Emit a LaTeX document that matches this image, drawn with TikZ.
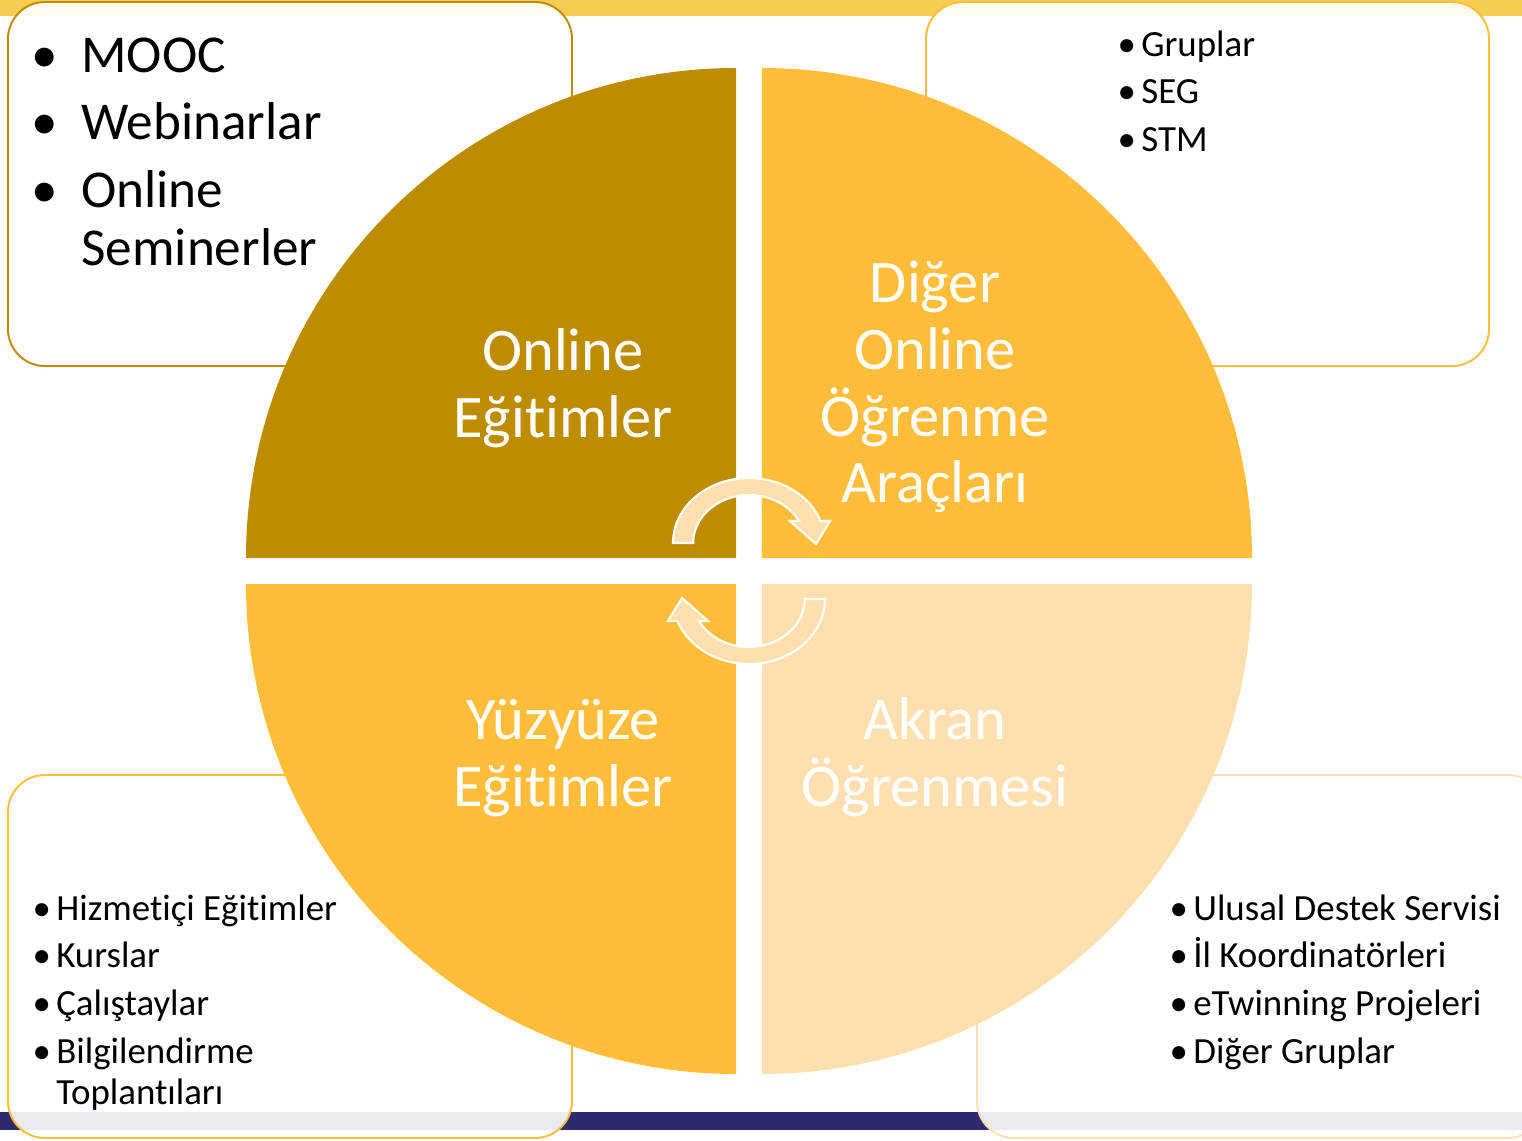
\documentclass[tikz,border=0pt]{standalone}
\usepackage{fontspec}
\setmainfont{Carlito}[Ligatures=NoCommon]
\definecolor{gold}{RGB}{189,140,0}
\definecolor{amber}{RGB}{255,189,58}
\definecolor{peach}{RGB}{255,223,176}
\definecolor{topbar}{RGB}{245,205,80}
\definecolor{navy}{RGB}{44,42,108}
\newcommand{\bitem}[2]{\llap{\textbullet\hspace{#1}}#2}
% one curved arrow, the other one is the same turned round
\def\turnpath{(673,543) arc[start angle=180, end angle=340.2, x radius=76, y radius=65]
  -- (830,521) -- (816,544) -- (790,521) -- (799,521)
  arc[start angle=332.7, end angle=180, x radius=56, y radius=48] -- cycle}
\begin{document}
\begin{tikzpicture}[x=0.02cm, y=-0.02cm,
  panel/.style={line width=1.1pt, rounded corners=21pt, fill=white, fill opacity=0.9},
  quadtext/.style={text=white, align=center, font=\fontsize{34.4}{38}\selectfont, inner sep=0pt},
  bigitems/.style={anchor=base west, inner sep=0pt, font=\fontsize{30.3}{33}\selectfont},
  smallitems/.style={anchor=base west, inner sep=0pt, font=\fontsize{21}{27.2}\selectfont},
  turn/.style={fill=peach, draw=white, line width=1.2pt, line join=miter}]
	\useasboundingbox (0,0) rectangle (1522,1140);
	\clip (0,0) rectangle (1522,1140);
	% slide bars
	\fill[topbar] (0,0) rectangle (1522,16);
	\fill[navy] (0,1112) rectangle (1522,1130);
	% boxes behind the circle
	\draw[panel, draw=gold] (8,2) rectangle (572,366);
	\draw[panel, draw=amber] (926,2) rectangle (1489,366);
	\draw[panel, draw=amber] (8,775) rectangle (572,1138);
	\draw[panel, draw=peach] (977,775) rectangle (1545,1138);
	% four quarters
	\fill[gold] (736,558) -- (246,558) arc[start angle=180, end angle=270, radius=490] -- cycle;
	\fill[amber] (762,558) -- (762,68) arc[start angle=270, end angle=360, radius=490] -- cycle;
	\fill[peach] (762,584) -- (1252,584) arc[start angle=0, end angle=90, radius=490] -- cycle;
	\fill[amber] (736,584) -- (736,1074) arc[start angle=90, end angle=180, radius=490] -- cycle;
	\node[quadtext] (online) at (563,388) {Online\\Eğitimler};
	\node[quadtext] (diger) at (935,387) {Diğer\\Online\\Öğrenme\\Araçları};
	\node[quadtext] (yuzyuze) at (563,758) {Yüzyüze\\Eğitimler};
	\node[quadtext] (akran) at (935,757) {Akran\\Öğrenmesi};
	% arrows in the middle
	\filldraw[turn] \turnpath;
	\begin{scope}[rotate around={180:(749,571)}]
		\filldraw[turn] \turnpath;
	\end{scope}
	% lists
	\node[bigitems] (tlist) at (81,72) {\begin{tabular}[t]{@{}l@{}}
		\bitem{13pt}{MOOC}\\[5.5pt]
		\bitem{13pt}{Webinarlar}\\[5.5pt]
		\bitem{13pt}{Online}\\
		Seminerler
	\end{tabular}};
	\node[smallitems] (trlist) at (1141,56) {\begin{tabular}[t]{@{}l@{}}
		\bitem{3pt}{Gruplar}\\
		\bitem{3pt}{SEG}\\
		\bitem{3pt}{STM}
	\end{tabular}};
	\node[smallitems, font=\fontsize{21}{23.2}\selectfont] (bllist) at (56,920) {\begin{tabular}[t]{@{}l@{}}
		\bitem{3pt}{Hizmetiçi Eğitimler}\\[4pt]
		\bitem{3pt}{Kurslar}\\[4pt]
		\bitem{3pt}{Çalıştaylar}\\[4pt]
		\bitem{3pt}{Bilgilendirme}\\
		Toplantıları
	\end{tabular}};
	\node[smallitems] (brlist) at (1193,920) {\begin{tabular}[t]{@{}l@{}}
		\bitem{3pt}{Ulusal Destek Servisi}\\
		\bitem{3pt}{İl Koordinatörleri}\\
		\bitem{3pt}{eTwinning Projeleri}\\
		\bitem{3pt}{Diğer Gruplar}
	\end{tabular}};
\end{tikzpicture}
\end{document}
